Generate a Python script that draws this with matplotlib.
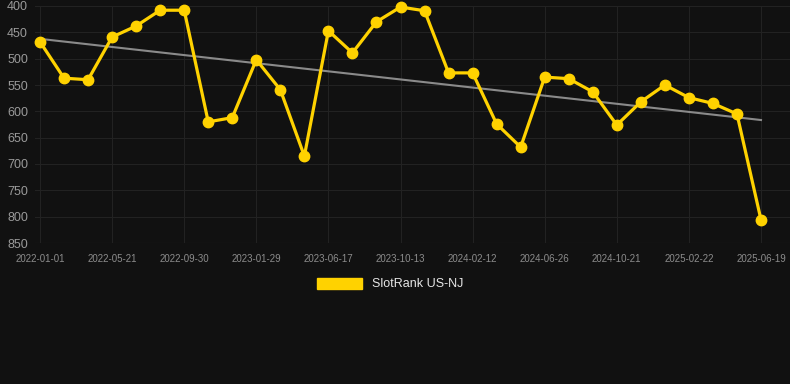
import matplotlib
matplotlib.use("Agg")
import matplotlib.pyplot as plt
import numpy as np

plt.rcParams['font.family'] = ['Liberation Sans', 'DejaVu Sans']

# rank values (lower is better, axis inverted)
ranks = [468, 537, 540, 459, 438, 408, 408, 620, 612, 502, 559, 685, 447, 489, 430,
         402, 409, 527, 527, 624, 668, 535, 538, 563, 626, 582, 550, 574, 585, 605, 806]
tick_labels = ['2022-01-01', '2022-05-21', '2022-09-30', '2023-01-29', '2023-06-17',
               '2023-10-13', '2024-02-12', '2024-06-26', '2024-10-21', '2025-02-22',
               '2025-06-19']
y_ticks = [400, 450, 500, 550, 600, 650, 700, 750, 800, 850]
series_name = 'SlotRank US-NJ'

bg = '#111111'
gold = '#FFD200'
W, H = 790, 384

fig = plt.figure(figsize=(W / 100, H / 100), dpi=100, facecolor=bg)
left, right, top, bottom = 35, 790, 6, 243
ax = fig.add_axes([left / W, 1 - bottom / H, (right - left) / W, (bottom - top) / H])
ax.set_facecolor(bg)

x = np.arange(len(ranks))
step = (761 - 40) / (len(ranks) - 1)
ax.set_xlim(-(40 - left) / step, len(ranks) - 1 + (right - 761) / step)
ax.set_ylim(850, 400)

# trend line (least squares)
k, b = np.polyfit(x, ranks, 1)
ax.plot(x, k * x + b, color='#8a8a8a', lw=1.5, zorder=2)

ax.plot(x, ranks, color=gold, lw=2.3, marker='o', markersize=7.5, zorder=3,
        clip_on=False, label=series_name)

ax.set_xticks(x[::3])
ax.set_xticklabels(tick_labels)
ax.set_yticks(y_ticks)
ax.tick_params(axis='x', colors='#8c8c8c', labelsize=7, length=0, pad=8)
ax.tick_params(axis='y', colors='#9a9a9a', labelsize=9, length=0, pad=5)
ax.grid(True, color='#222222', lw=0.8)
for s in ax.spines.values():
    s.set_visible(False)
ax.axhline(850, color='#2b2b2b', lw=0.8)

leg = fig.legend(handles=[plt.Rectangle((0, 0), 1, 1, color=gold)], labels=[series_name],
                 loc='center', bbox_to_anchor=(390 / W, 1 - 284 / H), frameon=False,
                 handlelength=3.6, handleheight=1.0, fontsize=9, labelcolor='#e6e6e6')

fig.savefig('out.png', dpi=100, facecolor=bg)
